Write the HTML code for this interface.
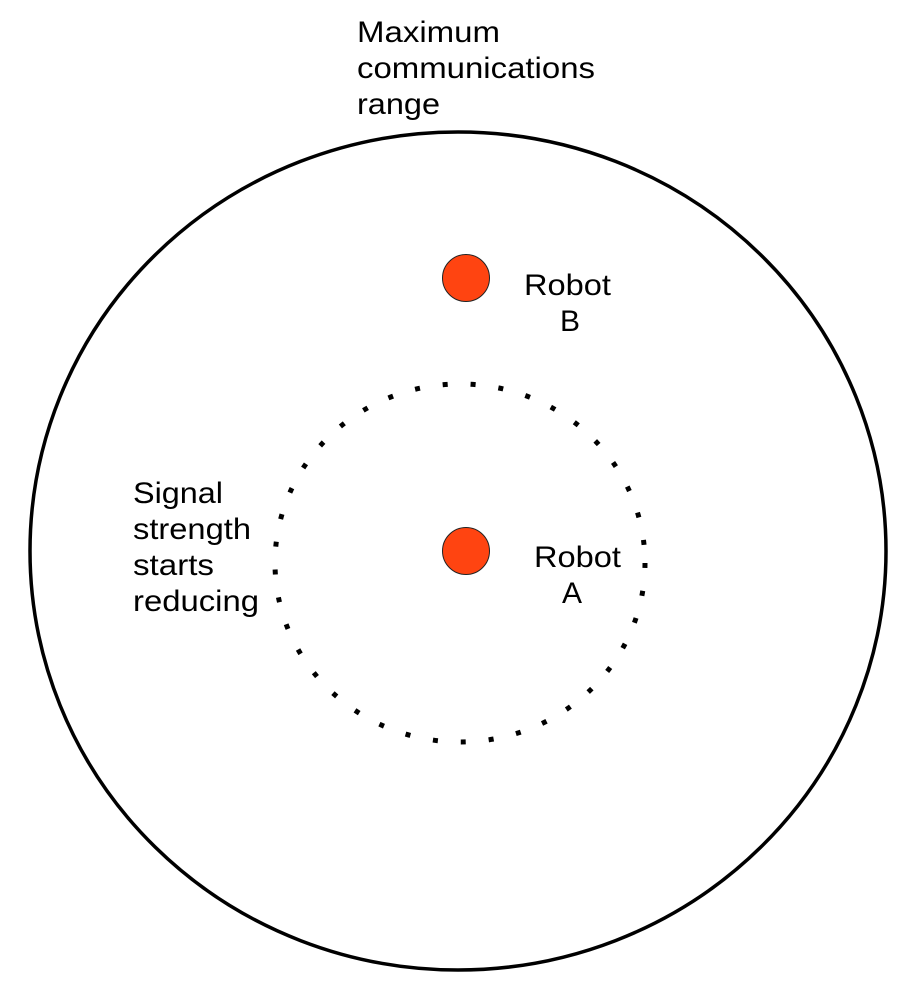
<!DOCTYPE html>
<html><head><meta charset="utf-8"><style>
html,body{margin:0;padding:0;background:#fff;}
svg{display:block}
text{font-family:"Liberation Sans",sans-serif;font-size:30px;fill:#000}
</style></head><body>
<svg width="918" height="1000" viewBox="0 0 918 1000">
<ellipse cx="458" cy="551" rx="428" ry="419" fill="none" stroke="#000" stroke-width="3.5"/>
<ellipse cx="460" cy="563" rx="185" ry="179" fill="none" stroke="#000" stroke-width="5" stroke-dasharray="5 23"/>
<circle cx="466" cy="278" r="23.5" fill="#ff4411" stroke="#222" stroke-width="1"/>
<circle cx="466" cy="551" r="23.5" fill="#ff4411" stroke="#222" stroke-width="1"/>
<text x="357" y="42" textLength="143" lengthAdjust="spacingAndGlyphs">Maximum</text>
<text x="357" y="78" textLength="238" lengthAdjust="spacingAndGlyphs">communications</text>
<text x="357" y="114" textLength="83" lengthAdjust="spacingAndGlyphs">range</text>
<text x="524" y="295" textLength="87" lengthAdjust="spacingAndGlyphs">Robot</text>
<text x="570" y="331" text-anchor="middle">B</text>
<text x="534" y="567" textLength="87" lengthAdjust="spacingAndGlyphs">Robot</text>
<text x="572" y="603" text-anchor="middle">A</text>
<text x="133" y="503" textLength="90" lengthAdjust="spacingAndGlyphs">Signal</text>
<text x="133" y="539" textLength="118" lengthAdjust="spacingAndGlyphs">strength</text>
<text x="133" y="575" textLength="81" lengthAdjust="spacingAndGlyphs">starts</text>
<text x="133" y="611" textLength="126" lengthAdjust="spacingAndGlyphs">reducing</text>
</svg>
</body></html>
